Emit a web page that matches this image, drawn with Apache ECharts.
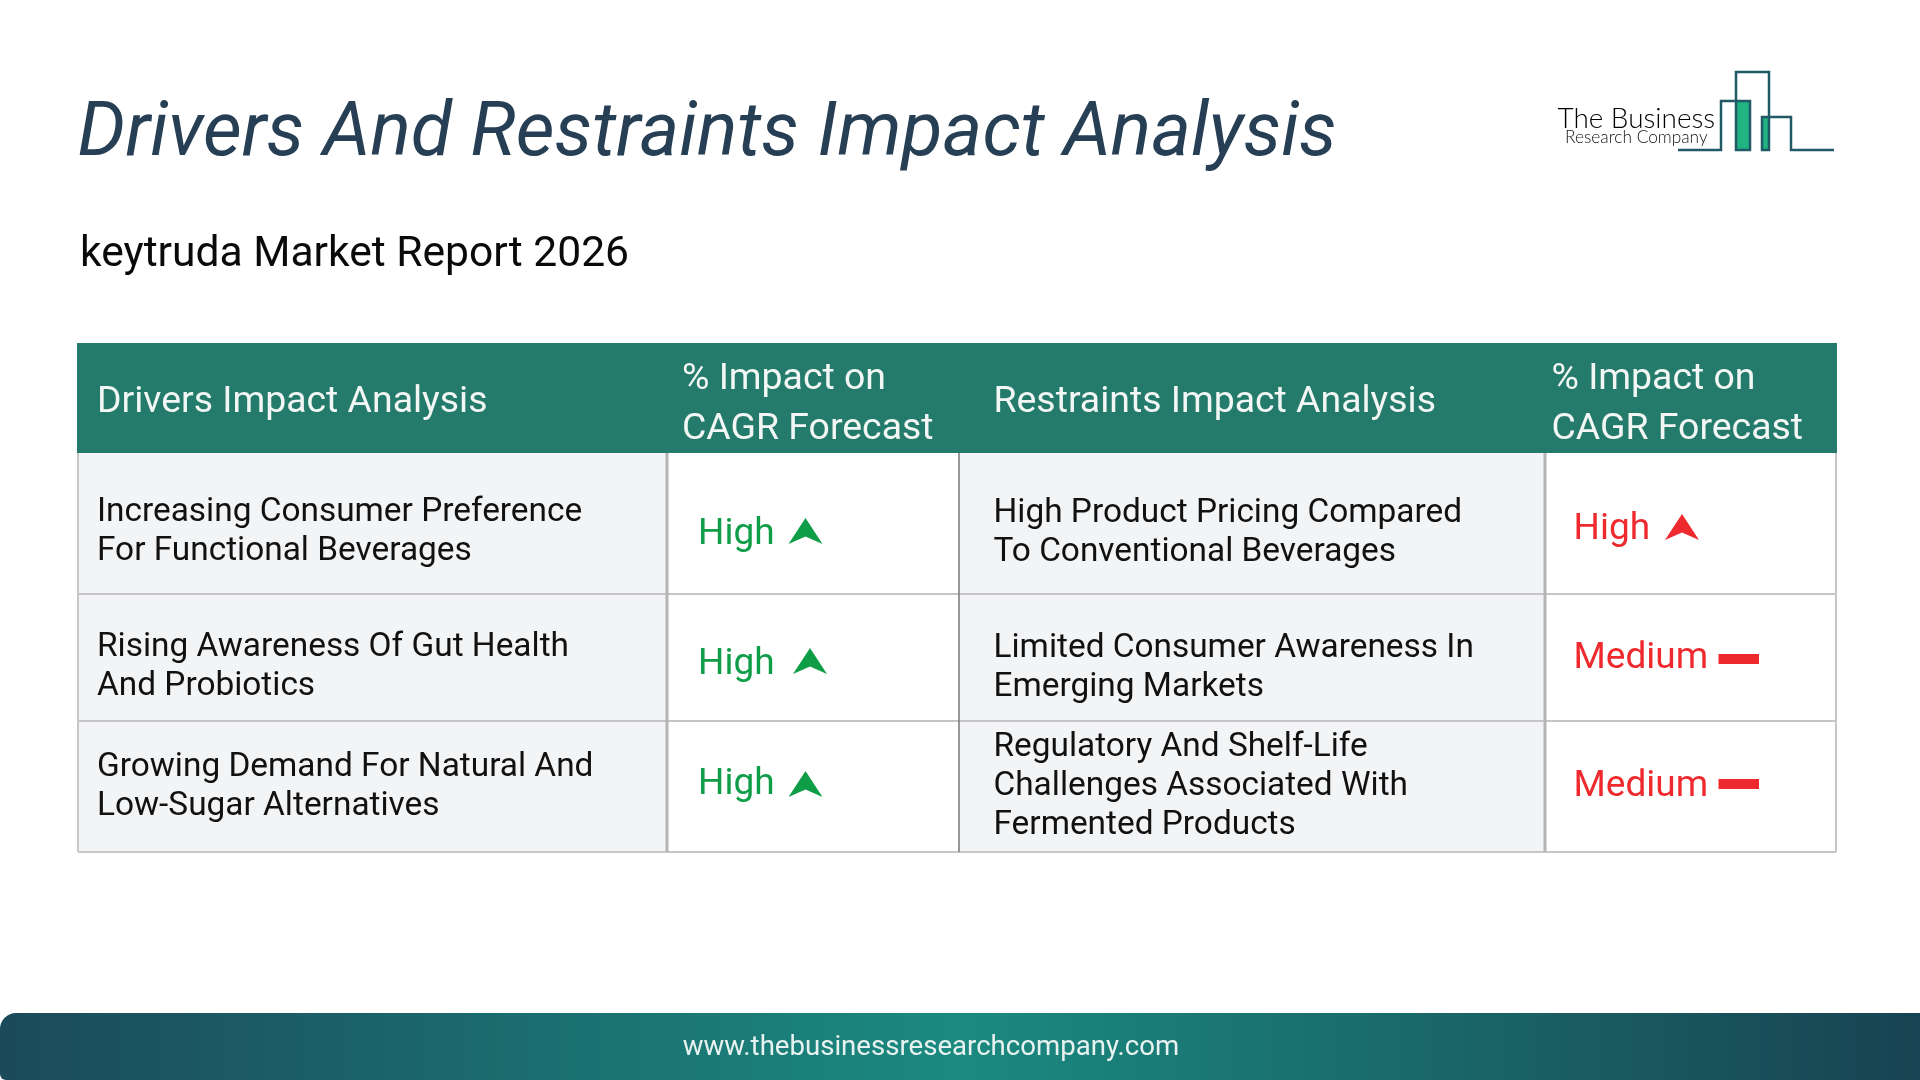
<!DOCTYPE html>
<html>
<head>
<meta charset="utf-8">
<title>Drivers And Restraints Impact Analysis</title>
<script src="https://cdn.jsdelivr.net/npm/echarts@6/dist/echarts.min.js"></script>
<style>
html, body { margin: 0; padding: 0; background: #fff; }
#chart { width: 1920px; height: 1080px; }
</style>
</head>
<body>
<div id="chart"></div>
<script>
const title = 'Drivers And Restraints Impact Analysis';
const subtitle = 'keytruda Market Report 2026';
const footerUrl = 'www.thebusinessresearchcompany.com';
const headers = ['Drivers Impact Analysis', '% Impact on\nCAGR Forecast', 'Restraints Impact Analysis', '% Impact on\nCAGR Forecast'];
const drivers = [
    'Increasing Consumer Preference\nFor Functional Beverages',
    'Rising Awareness Of Gut Health\nAnd Probiotics',
    'Growing Demand For Natural And\nLow-Sugar Alternatives'
];
const driverImpact = ['High', 'High', 'High'];
const restraints = [
    'High Product Pricing Compared\nTo Conventional Beverages',
    'Limited Consumer Awareness In\nEmerging Markets',
    'Regulatory And Shelf-Life\nChallenges Associated With\nFermented Products'
];
const restraintImpact = ['High', 'Medium', 'Medium'];

const FONT = 'Roboto';
const colX = [78, 667, 959, 1545, 1836];
const rowY = [343, 453, 594, 721, 852];
const GREEN = '#0f9d47';
const RED = '#ee2a2e';

const items = [];

function addText(text, x, y, size, color, extra) {
    items.push({
        type: 'text',
        z: 5,
        style: Object.assign({
            text, x, y,
            fill: color,
            font: `${size}px ${FONT}`,
            verticalAlign: 'middle',
            align: 'left'
        }, extra || {})
    });
}

function addLines(text, x, cy, size, lineGap, color) {
    const lines = text.split('\n');
    lines.forEach((line, i) => {
        addText(line, x, cy + (i - (lines.length - 1) / 2) * lineGap, size, color);
    });
}

function addRect(x, y, width, height, fill, z) {
    items.push({ type: 'rect', z: z || 1, shape: { x, y, width, height }, style: { fill } });
}

function addLine(x1, y1, x2, y2, stroke, lineWidth) {
    items.push({ type: 'line', z: 3, shape: { x1, y1, x2, y2 }, style: { stroke, lineWidth } });
}

function addChevron(cx, top, color) {
    items.push({
        type: 'polygon',
        z: 5,
        shape: { points: [[cx, top], [cx + 17, top + 26], [cx, top + 18.5], [cx - 17, top + 26]] },
        style: { fill: color }
    });
}

// page text
addText(title, 77.5, 136, 75.4, '#263f54', { font: `italic 75.4px ${FONT}` });
addText(subtitle, 80, 255.5, 42.6, '#0a0a0a');

// table cells
addRect(77, rowY[0], 1837 - 77, rowY[1] - rowY[0], '#257b6b');
for (let r = 1; r < 4; r++) {
    addRect(colX[0], rowY[r], colX[1] - colX[0], rowY[r + 1] - rowY[r], '#f3f4f6');
    addRect(colX[1], rowY[r], colX[2] - colX[1], rowY[r + 1] - rowY[r], '#ffffff');
    addRect(colX[2], rowY[r], colX[3] - colX[2], rowY[r + 1] - rowY[r], '#f3f4f6');
    addRect(colX[3], rowY[r], colX[4] - colX[3], rowY[r + 1] - rowY[r], '#ffffff');
}

// table rules
[2, 3, 4].forEach(r => addLine(colX[0], rowY[r], colX[4], rowY[r], '#c6c6c8', 2));
addLine(colX[0], rowY[1], colX[0], rowY[4], '#c6c6c8', 2);
addLine(colX[1], rowY[1], colX[1], rowY[4], '#b4b4b6', 3);
addLine(colX[2], rowY[1], colX[2], rowY[4], '#77787a', 1.5);
addLine(colX[3], rowY[1], colX[3], rowY[4], '#b4b4b6', 3);
addLine(colX[4], rowY[1], colX[4], rowY[4], '#c6c6c8', 2);

// header text
addLines(headers[0], 97, 403, 37.4, 49, '#f2f7f5');
addLines(headers[1], 682, 404.5, 37.4, 49.5, '#f2f7f5');
addLines(headers[2], 993.5, 403, 37.4, 49, '#f2f7f5');
addLines(headers[3], 1551.5, 404.5, 37.4, 49.5, '#f2f7f5');

// body text
const driverCy = [532.5, 667.5, 787.5];
const restraintCy = [533.5, 668.5, 786.5];
drivers.forEach((text, i) => addLines(text, 97, driverCy[i], 33.4, 39, '#111'));
restraints.forEach((text, i) => addLines(text, 993.5, restraintCy[i], 33.4, 39, '#111'));

// impact labels
const driverImpactCy = [534.5, 664.5, 784.5];
const driverArrowX = [805.5, 810, 805.5];
const driverArrowTop = [518, 648, 771];
driverImpact.forEach((text, i) => {
    addText(text, 698, driverImpactCy[i], 37, GREEN);
    addChevron(driverArrowX[i], driverArrowTop[i], GREEN);
});
const restraintImpactCy = [529.5, 658.5, 786.5];
const restraintBarY = [0, 654, 779];
restraintImpact.forEach((text, i) => {
    addText(text, 1573.5, restraintImpactCy[i], 37, RED);
    if (text === 'High') {
        addChevron(1682, 514, RED);
    } else {
        addRect(1718.5, restraintBarY[i], 40.5, 10, RED, 5);
    }
});

// logo
addRect(1736, 101, 14, 49, '#22b383', 2);
addRect(1762, 117, 8, 33, '#22b383', 2);
const logoPath = [
    [1678, 150], [1721, 150], [1721, 101], [1750, 101], [1750, 150], [1736, 150],
    [1736, 72], [1769, 72], [1769, 150], [1762, 150], [1762, 117], [1791, 117],
    [1791, 150], [1834, 150]
];
items.push({
    type: 'polyline',
    z: 4,
    shape: { points: logoPath },
    style: { stroke: '#1f5a66', lineWidth: 2.5, fill: 'none' }
});
addText('The Business', 1557.5, 119, 27.9, '#000', { font: '300 27.9px Lato' });
addText('Research Company', 1565, 137, 17.3, '#111', { font: '300 17.3px Lato' });

// footer, rounded only on the left
items.push({
    type: 'rect',
    z: 1,
    shape: { x: 0, y: 1013, width: 1920, height: 67, r: [16, 0, 0, 6] },
    style: {
        fill: {
            type: 'linear', x: 0, y: 0, x2: 1, y2: 0,
            colorStops: [
                { offset: 0, color: '#1b4a5a' },
                { offset: 0.5, color: '#1b8a80' },
                { offset: 1, color: '#184352' }
            ]
        }
    }
});
addText(footerUrl, 931, 1048.5, 27.6, '#e8f2f0', { align: 'center' });

const chart = echarts.init(document.getElementById('chart'), null, { renderer: 'canvas' });
chart.setOption({
    backgroundColor: '#ffffff',
    animation: false,
    graphic: { elements: items }
});
</script>
</body>
</html>
